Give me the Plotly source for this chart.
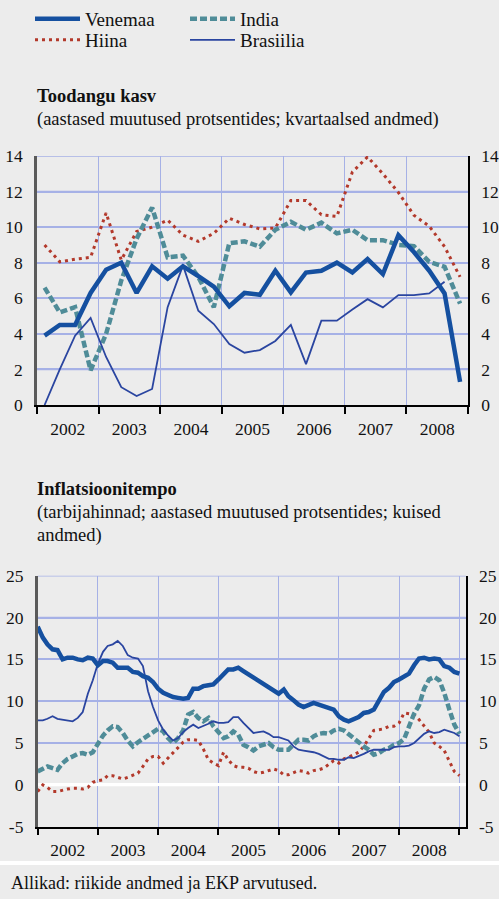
import pandas as pd
import plotly.graph_objects as go

# ---------------- data ----------------
series_names = ["Venemaa", "Hiina", "India", "Brasiilia"]

# quarterly output growth, 2002Q1 .. 2008Q4
venemaa_q = [3.9, 4.5, 4.5, 6.3, 7.6, 8.0, 6.3, 7.8, 7.1, 7.8, 7.25, 6.65, 5.55, 6.3,
             6.2, 7.55, 6.33, 7.45, 7.55, 8.0, 7.45, 8.2, 7.36, 9.55, 8.6, 7.55, 6.27, 1.3]
hiina_q = [9.0, 8.05, 8.2, 8.3, 10.8, 8.15, 9.75, 10.0, 10.4, 9.55, 9.2, 9.65, 10.5, 10.15,
           9.9, 9.95, 11.5, 11.5, 10.7, 10.6, 13.1, 13.95, 13.0, 11.95, 10.67, 10.05, 8.9, 7.2]
india_q = [6.6, 5.2, 5.5, 1.95, 4.0, 7.0, 9.35, 11.1, 8.3, 8.4, 7.2, 5.5, 9.1, 9.2,
           8.9, 9.85, 10.3, 9.85, 10.25, 9.65, 9.85, 9.27, 9.27, 9.0, 8.93, 8.05, 7.77, 5.7]
brasiilia_q = [0.0, 2.0, 3.9, 4.9, 2.7, 1.0, 0.5, 0.9, 5.5, 7.85, 5.3, 4.55, 3.43, 2.94,
               3.09, 3.6, 4.5, 2.3, 4.74, 4.74, 5.37, 5.95, 5.49, 6.18, 6.18, 6.27, 6.93, None]

# monthly consumer price inflation, Jan 2002 .. Jan 2009
venemaa_m = [18.9, 17.6, 16.8, 16.2, 16.1, 15.0, 15.2, 15.2, 15.0, 14.9, 15.2, 15.1,
             14.3, 14.8, 14.8, 14.6, 14.0, 14.0, 14.0, 13.5, 13.4, 13.0, 12.8, 12.3,
             11.5, 11.0, 10.7, 10.5, 10.4, 10.3, 10.4, 11.5, 11.5, 11.8, 11.9, 12.0,
             12.6, 13.2, 13.8, 13.8, 14.0, 13.6, 13.2, 12.8, 12.4, 12.0, 11.6, 11.2,
             10.9, 11.4, 10.6, 10.1, 9.6, 9.3, 9.6, 9.8, 9.6, 9.4, 9.3, 9.0,
             8.2, 7.8, 7.6, 7.8, 8.1, 8.6, 8.7, 9.0, 10.0, 11.1, 11.6, 12.3,
             12.6, 12.9, 13.3, 14.3, 15.1, 15.2, 15.0, 15.1, 15.0, 14.2, 14.0, 13.5,
             13.3]
hiina_m = [-0.8, 0.0, -0.3, -0.8, -0.8, -0.6, -0.5, -0.4, -0.4, -0.5, -0.3, 0.3,
           0.5, 0.6, 1.1, 1.1, 0.9, 0.7, 0.9, 1.2, 1.4, 2.2, 3.1, 3.4,
           3.4, 2.6, 3.2, 3.9, 4.5, 5.1, 5.4, 5.4, 5.3, 4.3, 3.0, 2.6,
           2.3, 3.9, 3.0, 2.3, 2.1, 2.1, 2.0, 1.6, 1.4, 1.5, 1.7, 1.9,
           1.7, 1.2, 1.2, 1.5, 1.7, 1.6, 1.4, 1.7, 1.8, 2.0, 2.5, 2.9,
           2.6, 3.1, 3.3, 3.6, 3.9, 4.6, 5.6, 6.5, 6.6, 6.7, 7.0, 7.0,
           7.4, 8.6, 8.5, 8.4, 7.8, 7.0, 6.3, 5.0, 4.6, 4.1, 2.8, 1.6,
           1.1]
india_m = [1.6, 1.9, 2.2, 2.0, 1.8, 2.6, 3.1, 3.4, 3.7, 3.8, 3.6, 3.9,
           5.0, 5.9, 6.5, 7.0, 6.9, 6.2, 5.3, 4.6, 5.1, 5.5, 5.8, 6.2,
           6.7, 6.4, 5.6, 5.0, 5.6, 6.5, 8.4, 8.7, 8.0, 7.6, 8.0, 7.0,
           6.2, 5.6, 5.8, 6.4, 6.0, 4.8, 4.5, 4.1, 4.6, 4.8, 5.0, 4.5,
           4.2, 4.2, 4.2, 4.8, 5.4, 5.4, 5.3, 5.8, 6.1, 6.2, 6.1, 6.5,
           6.7, 6.5, 6.1, 5.6, 5.1, 4.6, 4.2, 3.6, 3.8, 4.2, 4.4, 4.8,
           5.0, 5.5, 7.0, 8.5, 9.5, 11.5, 12.6, 12.9, 12.5, 11.0, 9.0, 7.2,
           6.1]
brasiilia_m = [7.7, 7.7, 7.9, 8.2, 7.9, 7.8, 7.7, 7.6, 8.0, 8.7, 10.9, 12.5,
               14.5, 15.9, 16.6, 16.8, 17.2, 16.6, 15.5, 15.2, 15.1, 14.2, 11.2, 9.3,
               7.7, 6.6, 5.9, 5.3, 5.6, 6.3, 6.8, 7.2, 6.8, 7.0, 7.3, 7.6,
               7.4, 7.4, 7.5, 8.1, 8.1, 7.4, 6.8, 6.2, 6.3, 6.4, 6.1, 5.7,
               5.7, 5.5, 5.3, 4.6, 4.2, 4.1, 4.0, 3.9, 3.7, 3.4, 3.1, 3.1,
               3.0, 3.0, 3.3, 3.2, 3.4, 3.7, 4.0, 4.2, 4.2, 4.2, 4.2, 4.5,
               4.6, 4.6, 4.7, 5.0, 5.6, 6.1, 6.4, 6.2, 6.3, 6.6, 6.4, 6.2,
               5.8]

q_dates = pd.date_range("2002-01-01", periods=len(venemaa_q), freq="QS") + pd.Timedelta(days=45)
m_dates = pd.date_range("2002-01-01", periods=len(venemaa_m), freq="MS")

top_ticks = [0, 2, 4, 6, 8, 10, 12, 14]
bot_ticks = [-5, 0, 5, 10, 15, 20, 25]
bot_ticktext = ["-5", "0", "5", "10", "15", "20", "25"]

# ---------------- styles ----------------
C_RUS = "#1550a0"
C_CHN = "#b3392b"
C_IND = "#4f8c98"
C_BRA = "#2a45a0"
GRID = "#a6b1e6"
BG = "#ececec"
FONT = "Liberation Serif"
TXT = "#111111"

W, H = 499, 899
ML, MR = 37, 31
PW = W - ML - MR


def px_x(px):
    return (px - ML) / PW


def px_y(py):
    return 1 - py / H


styles = {
    "Venemaa": dict(color=C_RUS, width=4.5, dash="solid"),
    "Hiina": dict(color=C_CHN, width=3, dash="3px,4px"),
    "India": dict(color=C_IND, width=4.5, dash="7px,3px"),
    "Brasiilia": dict(color=C_BRA, width=1.8, dash="solid"),
}
legend_of = {"Venemaa": "legend", "India": "legend2", "Hiina": "legend3", "Brasiilia": "legend4"}

top_data = {"Venemaa": venemaa_q, "Hiina": hiina_q, "India": india_q, "Brasiilia": brasiilia_q}
bot_data = {"Venemaa": venemaa_m, "Hiina": hiina_m, "India": india_m, "Brasiilia": brasiilia_m}

fig = go.Figure()
draw_order = ["Hiina", "India", "Brasiilia", "Venemaa"]
for name in draw_order:
    fig.add_trace(go.Scatter(x=q_dates, y=top_data[name], mode="lines", name=name,
                             line=styles[name], legend=legend_of[name],
                             xaxis="x", yaxis="y", hoverinfo="skip"))
for name in draw_order:
    fig.add_trace(go.Scatter(x=m_dates, y=bot_data[name], mode="lines", name=name,
                             line=styles[name], showlegend=False,
                             xaxis="x2", yaxis="y2", hoverinfo="skip"))
# invisible carriers for right-hand axes
fig.add_trace(go.Scatter(x=[q_dates[0]], y=[0], mode="markers", marker=dict(opacity=0),
                         showlegend=False, xaxis="x", yaxis="y3", hoverinfo="skip"))
fig.add_trace(go.Scatter(x=[m_dates[0]], y=[0], mode="markers", marker=dict(opacity=0),
                         showlegend=False, xaxis="x2", yaxis="y4", hoverinfo="skip"))

top_dom = [px_y(405), px_y(156)]
bot_dom = [px_y(826.7), px_y(575.7)]

TICKFONT = dict(size=17.5, family=FONT, color=TXT)
xcommon = dict(type="date", dtick="M12", tick0="2002-01-01", ticklabelmode="period",
               tickformat="%Y", showgrid=True, gridcolor=GRID, gridwidth=1,
               ticks="outside", ticklen=7, tickcolor="black", tickwidth=1.5,
               showline=True, linecolor="black", linewidth=1.5, zeroline=False,
               automargin=False, tickfont=TICKFONT)
ycommon = dict(showgrid=True, gridcolor=GRID, gridwidth=1.5,
               showline=True, linecolor="#5a5a5a", linewidth=2.5, ticks="",
               ticklabelstandoff=8, automargin=False, tickfont=TICKFONT)
yright = dict(side="right", showgrid=False,
              showline=True, linecolor="black", linewidth=1.5, ticks="",
              ticklabelstandoff=8, automargin=False, tickfont=TICKFONT)


def legend_box(px, py):
    return dict(orientation="v", x=px_x(px), y=px_y(py), xanchor="left", yanchor="middle",
                font=dict(size=19, family=FONT, color=TXT), bgcolor="rgba(0,0,0,0)",
                borderwidth=0, itemwidth=45, itemclick=False, itemdoubleclick=False)


fig.update_layout(
    width=W, height=H,
    margin=dict(l=ML, r=MR, t=0, b=0),
    paper_bgcolor=BG, plot_bgcolor=BG,
    font=dict(family=FONT, size=18, color=TXT),
    showlegend=True,
    legend=legend_box(30, 19),
    legend2=legend_box(185, 19),
    legend3=legend_box(30, 40),
    legend4=legend_box(185, 40),
    xaxis=dict(domain=[0, 1], anchor="y", range=["2002-01-01", "2009-01-01"], **xcommon),
    yaxis=dict(domain=top_dom, anchor="x", range=[0, 14], tickvals=top_ticks,
               zeroline=False, **ycommon),
    yaxis3=dict(overlaying="y", anchor="x", range=[0, 14], tickvals=top_ticks,
                zeroline=False, **yright),
    xaxis2=dict(domain=[px_x(37.7), px_x(465.7)], anchor="y2",
                range=["2002-01-01", "2009-02-08"], **xcommon),
    yaxis2=dict(domain=bot_dom, anchor="x2", range=[-5, 25], tickvals=bot_ticks,
                ticktext=bot_ticktext, zeroline=True, zerolinecolor="white",
                zerolinewidth=3, **ycommon),
    yaxis4=dict(overlaying="y2", anchor="x2", range=[-5, 25], tickvals=bot_ticks,
                ticktext=bot_ticktext, zeroline=False, **yright),
)

# horizontal gridlines at the tick values (drawn through the axes' own scales)
for v in top_ticks[1:]:
    fig.add_shape(type="line", xref="x domain", yref="y", x0=0, x1=1, y0=v, y1=v,
                  layer="below", line=dict(color=GRID, width=1.5))
for v in bot_ticks[2:]:
    fig.add_shape(type="line", xref="x2 domain", yref="y2", x0=0, x1=1, y0=v, y1=v,
                  layer="below", line=dict(color=GRID, width=1.5))
fig.add_shape(type="line", xref="x2 domain", yref="y2", x0=0, x1=1, y0=0, y1=0,
              layer="below", line=dict(color="white", width=3))


def note(text, px, py, bold=False, size=18.5):
    fig.add_annotation(text=("<b>%s</b>" % text) if bold else text,
                       xref="paper", yref="paper", x=px_x(px), y=px_y(py),
                       xanchor="left", yanchor="middle", showarrow=False,
                       font=dict(family=FONT, size=size, color=TXT))


note("Toodangu kasv", 35, 96, bold=True)
note("(aastased muutused protsentides; kvartaalsed andmed)", 35, 119)
note("Inflatsioonitempo", 35, 489, bold=True)
note("(tarbijahinnad; aastased muutused protsentides; kuised", 35, 512)
note("andmed)", 35, 535)
note("Allikad: riikide andmed ja EKP arvutused.", 9, 883, size=18)

fig.add_shape(type="line", xref="paper", yref="paper",
              x0=px_x(0), x1=px_x(W), y0=px_y(863), y1=px_y(863),
              line=dict(color="white", width=4))

fig.write_html(
    "out.html",
    config={"displayModeBar": False},
    post_script="document.body.style.margin='0';document.body.style.background='#ececec';",
)
